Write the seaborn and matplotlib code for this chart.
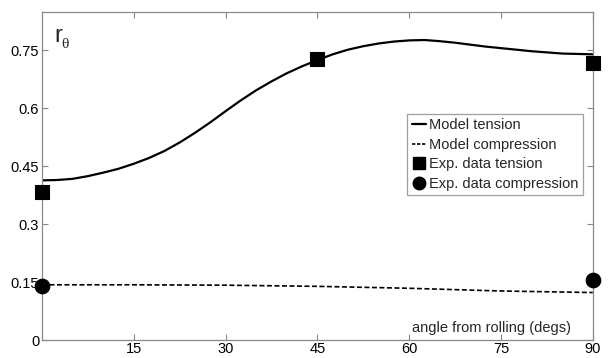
import numpy as np
import pandas as pd
import matplotlib
matplotlib.use("Agg")
import matplotlib.pyplot as plt
import seaborn as sns
from matplotlib.lines import Line2D

# model tension curve
tension_angle = [0, 2.5, 5, 7.5, 10, 12.5, 15, 17.5, 20, 22.5, 25, 27.5, 30, 32.5, 35,
                 37.5, 40, 42.5, 45, 47.5, 50, 52.5, 55, 57.5, 60, 62.5, 65, 67.5, 70,
                 72.5, 75, 77.5, 80, 82.5, 85, 87.5, 90]
model_tension = [0.413, 0.414, 0.417, 0.424, 0.433, 0.443, 0.456, 0.471, 0.489, 0.511,
                 0.536, 0.563, 0.592, 0.620, 0.646, 0.669, 0.690, 0.708, 0.724, 0.739,
                 0.751, 0.760, 0.767, 0.772, 0.775, 0.776, 0.773, 0.769, 0.764, 0.759,
                 0.755, 0.751, 0.747, 0.744, 0.741, 0.740, 0.739]

# model compression curve
compression_angle = [0, 15, 30, 45, 60, 75, 90]
model_compression = [0.143, 0.143, 0.142, 0.139, 0.134, 0.127, 0.123]

# experimental points
exp_angle_t = [0, 45, 90]
exp_tension = [0.383, 0.726, 0.716]
exp_angle_c = [0, 90]
exp_compression = [0.140, 0.155]

xticks = [15, 30, 45, 60, 75, 90]
yticks = [0, 0.15, 0.3, 0.45, 0.6, 0.75]
ytick_labels = ["0", "0.15", "0.3", "0.45", "0.6", "0.75"]

sns.set_style("ticks")
plt.rcParams['font.family'] = ['Liberation Sans', 'DejaVu Sans']

fig = plt.figure(figsize=(6.08, 3.58), dpi=100)
ax = fig.add_axes([0.069, 0.050, 0.906, 0.916])

df_t = pd.DataFrame({"angle": tension_angle, "r": model_tension})
df_c = pd.DataFrame({"angle": compression_angle, "r": model_compression})
sns.lineplot(data=df_t, x="angle", y="r", color="black", lw=1.6, ax=ax)
sns.lineplot(data=df_c, x="angle", y="r", color="black", lw=1.2, ax=ax)
ax.lines[-1].set_dashes([3, 1.5])

sns.scatterplot(x=exp_angle_t, y=exp_tension, marker="s", s=95, color="black",
                edgecolor="black", ax=ax, clip_on=False, zorder=5)
sns.scatterplot(x=exp_angle_c, y=exp_compression, marker="o", s=110, color="black",
                edgecolor="black", ax=ax, clip_on=False, zorder=5)

ax.set_xlim(0, 90)
ax.set_ylim(0, 0.848)
ax.set_xticks(xticks)
ax.set_yticks(yticks)
ax.set_yticklabels(ytick_labels)
ax.set_xlabel("")
ax.set_ylabel("")
ax.tick_params(direction="in", length=4, width=0.8, color="#888888",
               top=True, right=True, labelsize=10.5, labelcolor="black")
ax.tick_params(axis="x", pad=1.5)
ax.tick_params(axis="y", pad=2)
for s in ax.spines.values():
    s.set_visible(True)
    s.set_color("#888888")
    s.set_linewidth(0.9)

ax.text(2.0, 0.815, "r", fontsize=17, va="top", ha="left")
ax.text(3.2, 0.782, "θ", fontsize=11, va="top", ha="left",
        family=['Liberation Serif', 'DejaVu Serif'])
ax.text(86.5, 0.012, "angle from rolling (degs)", fontsize=10.5, ha="right", va="bottom")

handles = [
    Line2D([], [], color="black", lw=1.6),
    Line2D([], [], color="black", lw=1.2, dashes=[2, 1]),
    Line2D([], [], color="black", marker="s", ls="none", markersize=8),
    Line2D([], [], color="black", marker="o", ls="none", markersize=9),
]
labels = ["Model tension", "Model compression", "Exp. data tension", "Exp. data compression"]
leg = ax.legend(handles, labels, loc="upper left", bbox_to_anchor=(0.663, 0.69),
                fontsize=10.5, frameon=True, fancybox=False, handlelength=1.0,
                handletextpad=0.2, borderpad=0.3, labelspacing=0.38, borderaxespad=0)
leg.get_frame().set_edgecolor("#888888")
leg.get_frame().set_linewidth(0.9)

fig.savefig("out.png", dpi=100)
